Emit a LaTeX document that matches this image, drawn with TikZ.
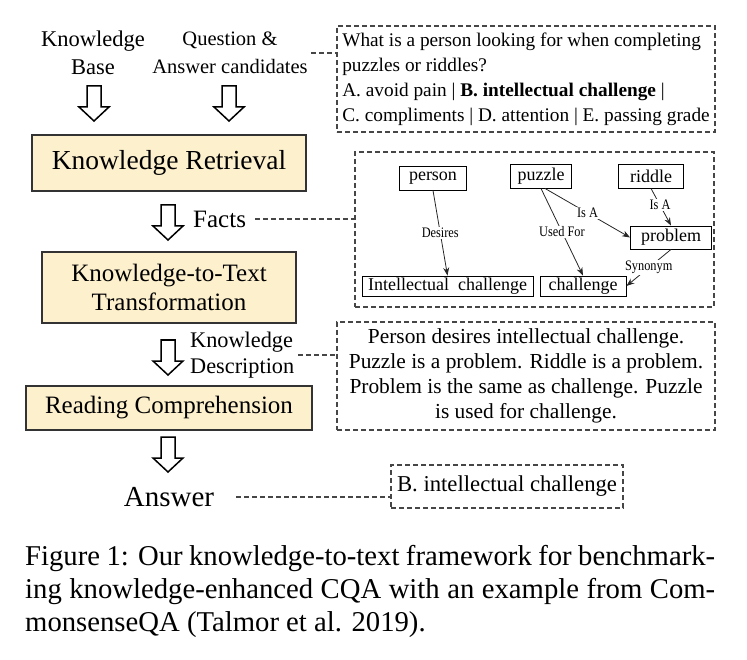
\documentclass[tikz,border=0pt]{standalone}
\usepackage{fontspec}
\setmainfont{Liberation Serif}
\newfontfamily\narrowserif[FakeStretch=0.85]{Liberation Serif}
\usetikzlibrary{arrows.meta}
\definecolor{boxfill}{RGB}{253,240,205}
\definecolor{dashgray}{RGB}{70,70,70}
\begin{document}
\begin{tikzpicture}[x=1pt,y=-1pt,
  stagebox/.style={draw=black!80, line width=1.1pt, fill=boxfill, inner sep=0, align=center},
  dashbox/.style={draw=dashgray, dash pattern=on 5pt off 3pt, line width=1.2pt, inner sep=0},
  dashline/.style={draw=dashgray, dash pattern=on 5pt off 3pt, line width=1.2pt},
  kgnode/.style={draw=black, line width=0.9pt, inner sep=0, font=\fontsize{18}{20}\selectfont},
  kgedge/.style={draw=black!85, line width=0.8pt, -{Stealth[length=8pt,width=6pt]}},
  elabel/.style={fill=white, inner sep=1pt, font=\narrowserif\fontsize{14.5}{14.5}\selectfont},
  hollowarrow/.pic={\draw[line width=1.5pt, fill=white, line join=miter]
      (-7,0) -- (-7,21) -- (-15,21) -- (0,35) -- (15,21) -- (7,21) -- (7,0) -- cycle;}
]
\useasboundingbox (0,0) rectangle (747,660);

% left column
\node[align=center, font=\fontsize{22.5}{28}\selectfont] (kb) at (93,53) {Knowledge\\Base};
\node[align=center, font=\fontsize{20.5}{28}\selectfont] (qa) at (230,53) {Question \&\\Answer candidates};
\pic at (94,86) {hollowarrow};
\pic at (229,86) {hollowarrow};

\node[stagebox, minimum width=274, minimum height=56, font=\fontsize{27.5}{30}\selectfont] (kr) at (169,163) {Knowledge Retrieval};
\pic at (168,205) {hollowarrow};
\node[anchor=west, inner sep=0, font=\fontsize{25}{28}\selectfont] (facts) at (193,219) {Facts};

\node[stagebox, minimum width=254, minimum height=71, font=\fontsize{25}{29.5}\selectfont] (k2t) at (169,287.5) {Knowledge-to-Text\\Transformation};
\pic at (168,340) {hollowarrow};
\node[anchor=west, align=left, inner sep=0, font=\fontsize{22.3}{26}\selectfont] (kd) at (190,355) {Knowledge\\Description};

\node[stagebox, minimum width=286, minimum height=44, font=\fontsize{25}{28}\selectfont] (rc) at (169,408) {Reading Comprehension};
\pic at (168,437) {hollowarrow};
\node[inner sep=0, font=\fontsize{29}{30}\selectfont] (ans) at (169,497) {Answer};

% right column
\node[dashbox, minimum width=378, minimum height=106, align=left, font=\fontsize{19.3}{25}\selectfont] (qbox) at (526,79)
  {What is a person looking for when completing\\
   puzzles or riddles?\\
   A. avoid pain | \textbf{B. intellectual challenge} |\\
   C. compliments | D. attention | E. passing grade};
\draw[dashline] (qa.east) -- (qa.east -| qbox.west);

\node[dashbox, minimum width=359, minimum height=155] (kg) at (534.5,229.5) {};
\draw[dashline] ([xshift=9pt]facts.east) -- (facts.east -| kg.west);

\node[kgnode, minimum width=67, minimum height=24] (person) at (433,178) {person};
\node[kgnode, minimum width=61, minimum height=24] (puzzle) at (541,176) {puzzle};
\node[kgnode, minimum width=65, minimum height=24] (riddle) at (651,176) {riddle};
\node[kgnode, minimum width=81, minimum height=23] (problem) at (671,237.5) {problem};
\node[kgnode, minimum width=171, minimum height=20] (ic) at (447.5,286) {Intellectual\ \ challenge};
\node[kgnode, minimum width=86, minimum height=20] (chal) at (583,286) {challenge};

\draw[kgedge] (person.south) -- node[elabel]{Desires} (ic.north);
\draw[kgedge] (puzzle.south) -- node[elabel]{Used For} (chal.north);
\draw[kgedge] ([xshift=4pt]puzzle.south) -- node[elabel]{Is A} (problem.west);
\draw[kgedge] (riddle.south) -- node[elabel, pos=0.45]{Is A} (problem.north);
\draw[kgedge] (problem.south) -- node[elabel]{Synonym} (chal.east);

\node[dashbox, minimum width=378, minimum height=108, align=center, font=\fontsize{21.4}{25}\selectfont] (desc) at (526,376)
  {Person desires intellectual challenge.\\
   Puzzle is a problem. Riddle is a problem.\\
   Problem is the same as challenge. Puzzle\\
   is used for challenge.};
\draw[dashline] ([xshift=4pt]kd.east) -- (kd.east -| desc.west);

\node[dashbox, minimum width=232, minimum height=43, font=\fontsize{22.7}{25}\selectfont] (abox) at (507,486.5) {B. intellectual challenge};
\draw[dashline] ([xshift=22pt]ans.east) -- (ans.east -| abox.west);

% caption
\node[anchor=north west, inner sep=0, align=left, font=\fontsize{28.7}{33}\selectfont] (cap) at (25,545)
  {\hbox to 690pt{Figure 1: Our knowledge-to-text framework for benchmark-}\\
   \hbox to 690pt{ing knowledge-enhanced CQA with an example from Com-}\\
   monsenseQA (Talmor et al. 2019).};
\end{tikzpicture}
\end{document}
